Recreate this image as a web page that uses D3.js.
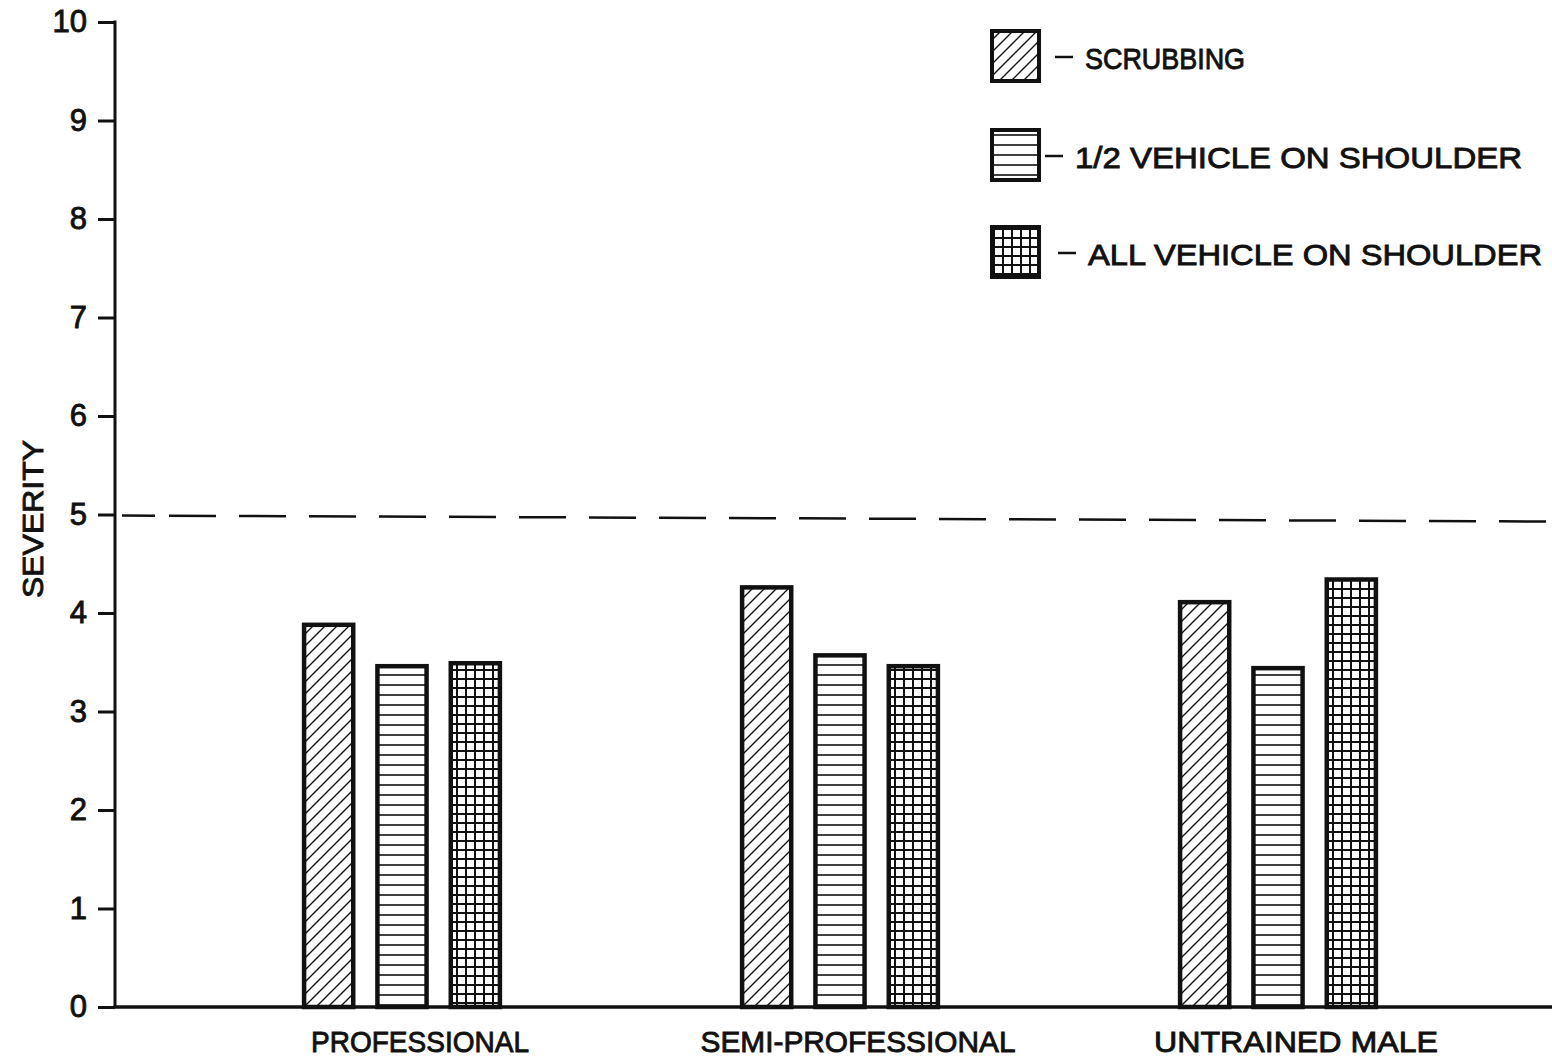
<!DOCTYPE html>
<html>
<head>
<meta charset="utf-8">
<script src="https://cdn.jsdelivr.net/npm/d3@7"></script>
<style>
  html, body { margin: 0; padding: 0; background: #fff; }
  svg { display: block; }
  text { font-family: "Liberation Sans", Arial, sans-serif; fill: #111; stroke: #111; stroke-width: 0.9px; }
</style>
</head>
<body>
<svg id="chart" width="1552" height="1061"></svg>
<script>
// ---- data ----
const categories = ["PROFESSIONAL", "SEMI-PROFESSIONAL", "UNTRAINED MALE"];
const seriesNames = ["SCRUBBING", "1/2 VEHICLE ON SHOULDER", "ALL VEHICLE ON SHOULDER"];
const scrubbing = [3.88, 4.26, 4.11];
const halfVehicleOnShoulder = [3.46, 3.57, 3.44];
const allVehicleOnShoulder = [3.49, 3.46, 4.34];
const yTicks = [0, 1, 2, 3, 4, 5, 6, 7, 8, 9, 10];
const yTickLabels = ["0", "1", "2", "3", "4", "5", "6", "7", "8", "9", "10"];
const referenceLevel = 5;
const yTitle = "SEVERITY";

const seriesValues = [scrubbing, halfVehicleOnShoulder, allVehicleOnShoulder];
const patternIds = ["hatchDiag", "hatchHoriz", "hatchGrid"];

const svg = d3.select("#chart");
const W = 1552, H = 1061;

// ---- patterns ----
const defs = svg.append("defs");
const pDiag = defs.append("pattern").attr("id", "hatchDiag")
  .attr("patternUnits", "userSpaceOnUse").attr("width", 12).attr("height", 12);
pDiag.append("rect").attr("width", 12).attr("height", 12).attr("fill", "#fff");
pDiag.append("path").attr("d", "M-2,14 L14,-2 M-2,2 L2,-2 M10,14 L14,10")
  .attr("stroke", "#111").attr("stroke-width", 1.4);

const pH = defs.append("pattern").attr("id", "hatchHoriz")
  .attr("patternUnits", "userSpaceOnUse").attr("width", 10).attr("height", 10);
pH.append("rect").attr("width", 10).attr("height", 10).attr("fill", "#fff");
pH.append("line").attr("x1", 0).attr("x2", 10).attr("y1", 5).attr("y2", 5)
  .attr("stroke", "#111").attr("stroke-width", 1.6);

const pG = defs.append("pattern").attr("id", "hatchGrid")
  .attr("patternUnits", "userSpaceOnUse").attr("width", 9).attr("height", 9);
pG.append("rect").attr("width", 9).attr("height", 9).attr("fill", "#fff");
pG.append("path").attr("d", "M0,4 L9,4 M4,0 L4,9")
  .attr("stroke", "#111").attr("stroke-width", 2);

// ---- scales ----
const y = d3.scaleLinear().domain([0, 10]).range([1007, 22]);
const x0 = d3.scaleBand().domain(categories).range([183, 1497]).padding(0);
const x1 = d3.scaleBand().domain(seriesNames)
  .range([x0.bandwidth() / 2 - 110, x0.bandwidth() / 2 + 110])
  .paddingInner(0.33).paddingOuter(0.165);

const axisX = 115;

// ---- y axis ----
const yAxis = d3.axisLeft(y).tickValues(yTicks).tickSize(17)
  .tickFormat((d, i) => yTickLabels[i]);
const gy = svg.append("g").attr("transform", `translate(${axisX},0)`).call(yAxis);
gy.select(".domain").remove();
gy.selectAll(".tick line").attr("stroke", "#111").attr("stroke-width", 3);
gy.selectAll(".tick text").attr("x", -28).attr("font-size", 31)
  .attr("font-family", "Liberation Sans, Arial, sans-serif").attr("fill", "#111");

svg.append("line").attr("x1", axisX).attr("x2", axisX)
  .attr("y1", y(10) - 1.5).attr("y2", y(0))
  .attr("stroke", "#111").attr("stroke-width", 3);

// ---- x axis line ----
svg.append("line").attr("x1", axisX - 1.5).attr("x2", W)
  .attr("y1", y(0)).attr("y2", y(0))
  .attr("stroke", "#111").attr("stroke-width", 3.5);

// ---- reference dashed line ----
svg.append("line").attr("x1", 122).attr("x2", W)
  .attr("y1", y(referenceLevel) + 1).attr("y2", y(referenceLevel) + 7)
  .attr("stroke", "#111").attr("stroke-width", 2.5)
  .attr("stroke-dasharray", "33,14,47,23,47,23,47,23,47,23,47,23,47,23,47,23,47,23,47,23,47,23,47,23,47,23,47,23,47,23,47,23,47,23,47,23,47,23,47,23,47,23,47,23");

// ---- bars ----
const groups = svg.append("g").selectAll("g").data(categories).join("g")
  .attr("transform", d => `translate(${x0(d)},0)`);
groups.selectAll("rect")
  .data((c, ci) => seriesNames.map((s, si) => ({ s, si, v: seriesValues[si][ci] })))
  .join("rect")
  .attr("x", d => x1(d.s))
  .attr("width", x1.bandwidth())
  .attr("y", d => y(d.v))
  .attr("height", d => y(0) - y(d.v))
  .attr("fill", d => `url(#${patternIds[d.si]})`)
  .attr("stroke", "#111").attr("stroke-width", 4.5);

// ---- category labels ----
const labelWidths = [218, 315, 284];
svg.append("g").selectAll("text").data(categories).join("text")
  .attr("x", d => x0(d) + x0.bandwidth() / 2 + 18)
  .attr("y", 1052)
  .attr("text-anchor", "middle")
  .attr("font-size", 30)
  .attr("textLength", (d, i) => labelWidths[i])
  .attr("lengthAdjust", "spacingAndGlyphs")
  .text(d => d);

// ---- y title ----
svg.append("text")
  .attr("transform", "translate(43,519) rotate(-90)")
  .attr("text-anchor", "middle")
  .attr("font-size", 29)
  .attr("textLength", 158)
  .attr("lengthAdjust", "spacingAndGlyphs")
  .text(yTitle);

// ---- legend ----
const legendRows = [57, 156, 253];
const legendTextLen = [160, 447, 454];
const legendTextX = [1085, 1075, 1088];
const legendDashX = [1055, 1045, 1058];
const lg = svg.append("g").selectAll("g").data(seriesNames).join("g");
lg.append("rect")
  .attr("x", 992).attr("y", (d, i) => legendRows[i] - 26)
  .attr("width", 47).attr("height", 50)
  .attr("fill", (d, i) => `url(#${patternIds[i]})`)
  .attr("stroke", "#111").attr("stroke-width", 4);
lg.append("line")
  .attr("x1", (d, i) => legendDashX[i]).attr("x2", (d, i) => legendDashX[i] + 18)
  .attr("y1", (d, i) => legendRows[i]).attr("y2", (d, i) => legendRows[i])
  .attr("stroke", "#111").attr("stroke-width", 2.5);
lg.append("text")
  .attr("x", (d, i) => legendTextX[i]).attr("y", (d, i) => legendRows[i] + 12)
  .attr("font-size", 30)
  .attr("textLength", (d, i) => legendTextLen[i])
  .attr("lengthAdjust", "spacingAndGlyphs")
  .text(d => d);
</script>
</body>
</html>
